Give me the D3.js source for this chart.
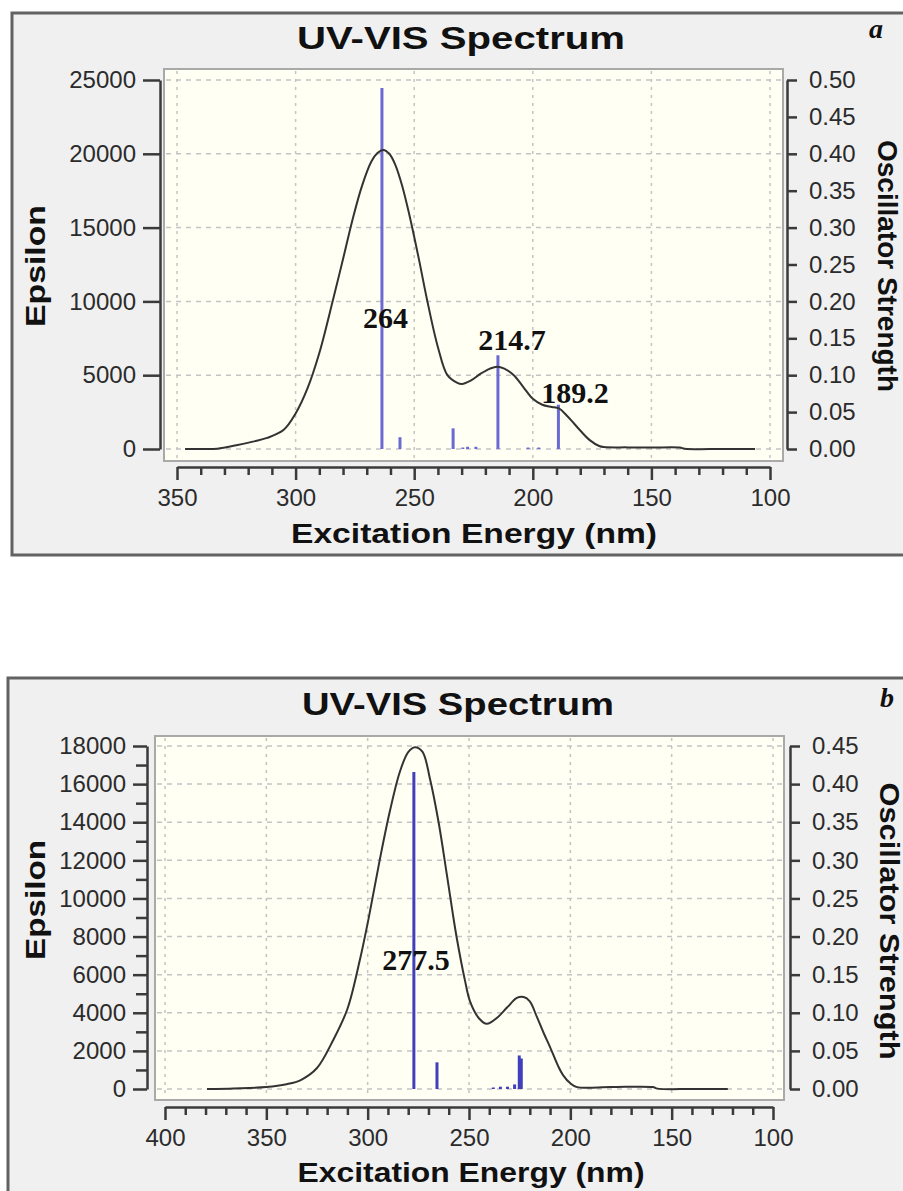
<!DOCTYPE html>
<html>
<head>
<meta charset="utf-8">
<script src="https://cdn.jsdelivr.net/npm/d3@7"></script>
<style>
  body { margin: 0; background: #fff; }
  svg { display: block; }
  .tick text { font-family: 'Liberation Sans', Arial, sans-serif; fill: #2b2b2b; }
</style>
</head>
<body>
<div id="canvas"></div>
<script>
// panel a : calculated spectrum (nm, epsilon) and oscillator sticks
const nmA = [346.6, 340, 333, 325, 318, 312, 305, 300, 295, 290, 284.2, 280, 276, 272, 268, 265.5, 263, 260.5, 258, 255, 252, 248, 244.6, 240, 236, 232, 229.9, 226, 222, 218, 215, 212, 208, 204, 200, 196, 192, 189, 185, 180, 176, 172, 170, 160, 150, 138, 136, 120, 106.3];
const epsA = [0, 0, 20, 250, 500, 750, 1300, 2400, 4100, 6500, 10130, 12870, 15540, 17830, 19490, 20050, 20260, 20000, 19270, 17790, 15840, 12850, 10130, 6900, 5000, 4500, 4400, 4650, 5100, 5450, 5580, 5450, 5000, 4200, 3400, 3000, 2850, 2750, 2150, 1250, 600, 200, 130, 110, 100, 100, 20, 0, 0];
const stickNmA = [263.6, 256, 233.6, 229.5, 227.5, 224, 214.7, 202, 197.5, 189.2];
const stickFA = [0.489, 0.016, 0.028, 0.002, 0.003, 0.003, 0.127, 0.002, 0.002, 0.060];
const peakTextA = ['264', '214.7', '189.2'];
const peakTextNmA = [262.1, 208.8, 182.2];
const peakTextEpsA = [8200, 6700, 3120];
const xTicksA = [350, 300, 250, 200, 150, 100];
const yTicksA = [0, 5000, 10000, 15000, 20000, 25000];
const fTicksA = [0, 0.05, 0.10, 0.15, 0.20, 0.25, 0.30, 0.35, 0.40, 0.45, 0.50];

// panel b
const nmB = [379.3, 366, 350, 340, 333, 325, 317, 310, 304, 299.5, 293.9, 289, 284.1, 280, 276.7, 273, 269.3, 265, 261, 258, 256, 252, 249.5, 245, 241.2, 236, 231, 226.4, 223, 220, 216.5, 213, 210, 206, 203.6, 200, 196.7, 180, 159.3, 157, 140, 122.3];
const epsB = [0, 30, 100, 250, 470, 1100, 2570, 4200, 6700, 8970, 12100, 14600, 16650, 17680, 17940, 17700, 16300, 14000, 11300, 9200, 7900, 5700, 4600, 3700, 3420, 3750, 4300, 4780, 4830, 4600, 3780, 2900, 2200, 1200, 730, 300, 100, 100, 100, 20, 0, 0];
const stickNmB = [277.2, 265.8, 238, 234.5, 231, 227.5, 225.2, 224.2];
const stickFB = [0.416, 0.035, 0.002, 0.003, 0.003, 0.006, 0.044, 0.040];
const peakTextB = ['277.5'];
const peakTextNmB = [276.2];
const peakTextEpsB = [6240];
const xTicksB = [400, 350, 300, 250, 200, 150, 100];
const yTicksB = [0, 2000, 4000, 6000, 8000, 10000, 12000, 14000, 16000, 18000];
const fTicksB = [0, 0.05, 0.10, 0.15, 0.20, 0.25, 0.30, 0.35, 0.40, 0.45];

const W = 903, H = 1191;

const svg = d3.select('#canvas')
  .append('svg')
  .attr('width', W)
  .attr('height', H);

svg.append('rect').attr('width', W).attr('height', H).attr('fill', '#fff');

function drawPanel(p) {
  const g = svg.append('g');

  const x = d3.scaleLinear().domain(p.xDomain).range(p.xRange);
  const y = d3.scaleLinear().domain([0, p.epsMax]).range(p.yRange);
  const yF = d3.scaleLinear().domain([0, p.fMax]).range(p.yRange);

  // outer frame
  g.append('rect')
    .attr('x', p.frame[0]).attr('y', p.frame[1])
    .attr('width', p.frame[2]).attr('height', p.frame[3])
    .attr('fill', '#f0f0f0')
    .attr('stroke', '#626262')
    .attr('stroke-width', 3);

  // plot area
  g.append('rect')
    .attr('x', p.plot[0]).attr('y', p.plot[1])
    .attr('width', p.plot[2] - p.plot[0]).attr('height', p.plot[3] - p.plot[1])
    .attr('fill', '#fffff4')
    .attr('stroke', '#a9a9a9')
    .attr('stroke-width', 2);

  // grid
  g.append('g').selectAll('line')
    .data(p.yTicks)
    .enter()
    .append('line')
    .attr('x1', p.plot[0] + 2).attr('x2', p.plot[2] - 2)
    .attr('y1', (d) => y(d)).attr('y2', (d) => y(d))
    .attr('stroke', '#c4c4c4')
    .attr('stroke-width', 1.5)
    .attr('stroke-dasharray', '5,5');

  g.append('g').selectAll('line')
    .data(p.xTicks)
    .enter()
    .append('line')
    .attr('x1', (d) => x(d)).attr('x2', (d) => x(d))
    .attr('y1', p.plot[1] + 2).attr('y2', p.plot[3] - 2)
    .attr('stroke', '#c4c4c4')
    .attr('stroke-width', 1.5)
    .attr('stroke-dasharray', '3,5');

  // sticks
  g.append('g').selectAll('line')
    .data(p.stickNm)
    .enter()
    .append('line')
    .attr('x1', (d) => x(d)).attr('x2', (d) => x(d))
    .attr('y1', yF(0))
    .attr('y2', (d, i) => yF(p.stickF[i]))
    .attr('stroke', p.stickColor)
    .attr('stroke-width', 3);

  // spectrum curve
  const line = d3.line()
    .x((d) => x(d[0]))
    .y((d) => y(d[1]))
    .curve(d3.curveCatmullRom.alpha(0.5));

  g.append('path')
    .datum(d3.zip(p.nm, p.eps))
    .attr('d', line)
    .attr('fill', 'none')
    .attr('stroke', '#333')
    .attr('stroke-width', 2);

  // peak labels
  g.append('g').selectAll('text')
    .data(p.peakText)
    .enter()
    .append('text')
    .attr('x', (d, i) => x(p.peakTextNm[i]))
    .attr('y', (d, i) => y(p.peakTextEps[i]))
    .attr('text-anchor', 'middle')
    .style('font-family', "'Liberation Serif', 'Times New Roman', serif")
    .style('font-weight', 'bold')
    .style('font-size', '30px')
    .style('fill', '#111')
    .text((d) => d);

  // axes
  const styleAxis = (sel) => {
    sel.selectAll('path, line').attr('stroke', '#3a3a3a').attr('stroke-width', 2.5);
    sel.selectAll('text').style('font-size', '24px');
  };

  const xAxis = d3.axisBottom(x).tickValues(p.xTicks).tickSize(13).tickSizeOuter(0).tickPadding(9).tickFormat(d3.format('d'));
  g.append('g')
    .attr('transform', 'translate(0, ' + p.xAxisY + ')')
    .call(xAxis)
    .call(styleAxis);

  const xMinor = d3.axisBottom(x).tickValues(d3.range(p.xDomain[0], p.xDomain[1] - 1, -10).filter((d) => d % 50 !== 0)).tickSize(8).tickSizeOuter(0).tickFormat('');
  g.append('g')
    .attr('transform', 'translate(0, ' + p.xAxisY + ')')
    .call(xMinor)
    .call(styleAxis)
    .select('.domain').remove();

  const yAxis = d3.axisLeft(y).tickValues(p.yTicks).tickSize(p.yTickSize).tickSizeOuter(0).tickPadding(7).tickFormat(d3.format('d'));
  g.append('g')
    .attr('transform', 'translate(' + p.yAxisX + ', 0)')
    .call(yAxis)
    .call(styleAxis);

  if (p.yMinor) {
    const yMinorAxis = d3.axisLeft(y).tickValues(p.yMinor).tickSize(11).tickSizeOuter(0).tickFormat('');
    g.append('g')
      .attr('transform', 'translate(' + p.yAxisX + ', 0)')
      .call(yMinorAxis)
      .call(styleAxis)
      .select('.domain').remove();
  }

  const fAxis = d3.axisRight(yF).tickValues(p.fTicks).tickSize(10).tickSizeOuter(0).tickPadding(12).tickFormat(d3.format('.2f'));
  g.append('g')
    .attr('transform', 'translate(' + p.fAxisX + ', 0)')
    .call(fAxis)
    .call(styleAxis);

  // titles
  const bold = (sel) => sel
    .style('font-family', "'Liberation Sans', Arial, sans-serif")
    .style('font-weight', 'bold')
    .style('fill', '#111');

  g.append('text')
    .attr('x', p.title[0]).attr('y', p.title[1])
    .attr('text-anchor', 'middle')
    .attr('textLength', p.title[2])
    .attr('lengthAdjust', 'spacingAndGlyphs')
    .style('font-size', '32px')
    .call(bold)
    .text('UV-VIS Spectrum');

  g.append('text')
    .attr('x', p.xTitle[0]).attr('y', p.xTitle[1])
    .attr('text-anchor', 'middle')
    .attr('textLength', p.xTitle[2])
    .attr('lengthAdjust', 'spacingAndGlyphs')
    .style('font-size', '27px')
    .call(bold)
    .text('Excitation Energy (nm)');

  g.append('text')
    .attr('transform', 'translate(' + p.yTitle[0] + ', ' + p.yTitle[1] + ') rotate(-90)')
    .attr('text-anchor', 'middle')
    .attr('textLength', p.yTitle[2])
    .attr('lengthAdjust', 'spacingAndGlyphs')
    .style('font-size', '27px')
    .call(bold)
    .text('Epsilon');

  g.append('text')
    .attr('transform', 'translate(' + p.fTitle[0] + ', ' + p.fTitle[1] + ') rotate(90)')
    .attr('text-anchor', 'middle')
    .attr('textLength', p.fTitle[2])
    .attr('lengthAdjust', 'spacingAndGlyphs')
    .style('font-size', '27px')
    .call(bold)
    .text('Oscillator Strength');

  g.append('text')
    .attr('x', p.letter[0]).attr('y', p.letter[1])
    .attr('text-anchor', 'middle')
    .style('font-family', "'Liberation Serif', 'Times New Roman', serif")
    .style('font-weight', 'bold')
    .style('font-style', 'italic')
    .style('font-size', '28px')
    .style('fill', '#111')
    .text(p.letterText);
}

drawPanel({
  frame: [12, 13, 900, 542],
  plot: [164, 69, 783, 461],
  xDomain: [350, 100], xRange: [177, 770],
  epsMax: 25000, fMax: 0.5, yRange: [449, 80],
  xTicks: xTicksA, yTicks: yTicksA, fTicks: fTicksA, yMinor: null,
  yTickSize: 17,
  xAxisY: 467, yAxisX: 160, fAxisX: 787,
  nm: nmA, eps: epsA,
  stickNm: stickNmA, stickF: stickFA, stickColor: '#6a6ad2',
  peakText: peakTextA, peakTextNm: peakTextNmA, peakTextEps: peakTextEpsA,
  title: [461, 49, 328],
  xTitle: [474, 543, 366],
  yTitle: [45, 266, 122],
  fTitle: [878, 266, 252],
  letter: [876, 38], letterText: 'a'
});

drawPanel({
  frame: [8, 678, 904, 530],
  plot: [155, 736, 784, 1100],
  xDomain: [400, 100], xRange: [165, 773],
  epsMax: 18000, fMax: 0.45, yRange: [1089, 746],
  xTicks: xTicksB, yTicks: yTicksB, fTicks: fTicksB,
  yMinor: d3.range(1000, 18000, 2000),
  yTickSize: 14,
  xAxisY: 1107, yAxisX: 147, fAxisX: 790,
  nm: nmB, eps: epsB,
  stickNm: stickNmB, stickF: stickFB, stickColor: '#4040bc',
  peakText: peakTextB, peakTextNm: peakTextNmB, peakTextEps: peakTextEpsB,
  title: [458, 715, 312],
  xTitle: [471, 1182, 347],
  yTitle: [45, 900, 120],
  fTitle: [880, 921, 277],
  letter: [887, 707], letterText: 'b'
});
</script>
</body>
</html>
